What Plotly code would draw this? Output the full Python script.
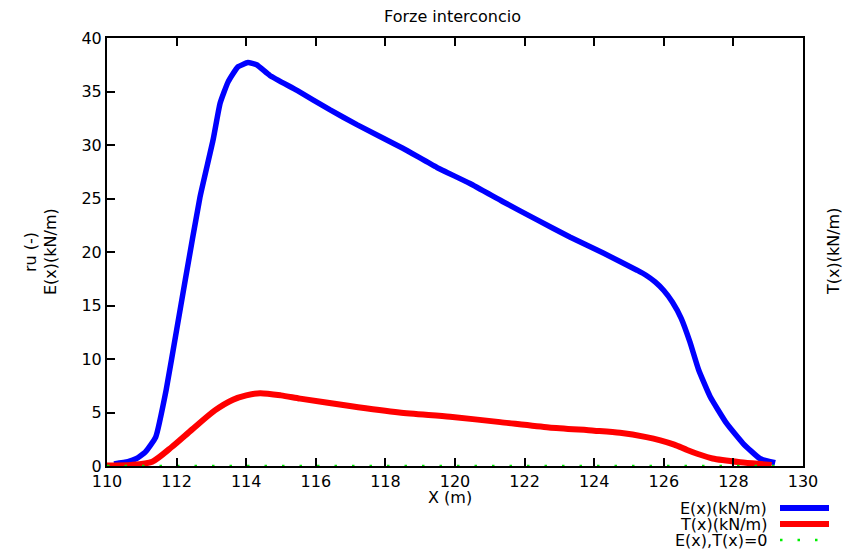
import plotly.graph_objects as go

# ---- data ----
E_x = [110.2, 110.6, 110.85, 111.1, 111.4, 111.7, 112.0, 112.25, 112.67, 113.05, 113.25,
       113.48, 113.76, 114.05, 114.3, 114.68, 115.46, 116.4, 117.18, 118.5, 119.48,
       120.43, 121.38, 122.36, 123.3, 124.26, 125.23, 125.5, 125.75, 126.0, 126.25,
       126.5, 126.75, 127.0, 127.33, 127.8, 128.28, 128.76, 129.2]
E_y = [0.2, 0.4, 0.7, 1.3, 2.7, 7.1, 12.7, 17.4, 25.1, 30.5, 33.9,
       35.9, 37.3, 37.7, 37.5, 36.5, 35.1, 33.3, 31.9, 29.7, 27.9,
       26.4, 24.7, 23.0, 21.4, 19.9, 18.3, 17.8, 17.2, 16.4, 15.3,
       13.8, 11.6, 9.0, 6.5, 4.0, 2.1, 0.7, 0.3]
T_x = [110.0, 110.7, 111.3, 111.87, 112.44, 113.1, 113.62, 114.0, 114.4, 115.0, 115.55,
       116.98, 118.4, 119.86, 121.3, 122.7, 124.0, 124.74, 125.5, 125.9, 126.3, 126.67,
       127.0, 127.4, 128.2, 128.7, 129.1]
T_y = [0.05, 0.1, 0.4, 1.8, 3.4, 5.2, 6.2, 6.6, 6.8, 6.6, 6.3,
       5.6, 5.0, 4.6, 4.1, 3.6, 3.3, 3.1, 2.7, 2.4, 2.0, 1.5,
       1.1, 0.7, 0.35, 0.2, 0.1]
Z_x = [110.0, 129.2]
Z_y = [0, 0]
x_ticks = [110, 112, 114, 116, 118, 120, 122, 124, 126, 128, 130]
y_ticks = [0, 5, 10, 15, 20, 25, 30, 35, 40]
legend_names = ["E(x)(kN/m)", "T(x)(kN/m)", "E(x),T(x)=0"]

FONT = "DejaVu Sans"
FS = 16
BLUE = "#0000ff"
RED = "#ff0000"
GREEN = "#00ee00"

fig = go.Figure()
fig.add_trace(go.Scatter(x=E_x, y=E_y, mode="lines",
                         line=dict(color=BLUE, width=5.5, shape="spline", smoothing=0.4),
                         name=legend_names[0], cliponaxis=False))
fig.add_trace(go.Scatter(x=T_x, y=T_y, mode="lines",
                         line=dict(color=RED, width=6, shape="spline", smoothing=0.7),
                         name=legend_names[1], cliponaxis=False))
fig.add_trace(go.Scatter(x=Z_x, y=Z_y, mode="lines",
                         line=dict(color=GREEN, width=2.5, dash="2.5px,15px"),
                         name=legend_names[2], cliponaxis=False))

W, H = 854, 554
L, R, T, B = 107, 51, 38, 88

fig.update_layout(
    width=W, height=H,
    margin=dict(l=L, r=R, t=T, b=B),
    paper_bgcolor="white", plot_bgcolor="white",
    showlegend=False,
    font=dict(family=FONT, size=FS, color="black"),
    xaxis=dict(range=[110, 130], tickvals=x_ticks, ticktext=[str(v) for v in x_ticks],
               ticks="inside", ticklen=8, tickwidth=1.5, tickcolor="black",
               showline=True, linecolor="black", linewidth=2, mirror="allticks",
               showgrid=False, zeroline=False, tickfont=dict(size=FS)),
    yaxis=dict(range=[0, 40], tickvals=y_ticks, ticktext=[str(v) for v in y_ticks],
               ticks="inside", ticklen=8, tickwidth=1.5, tickcolor="black",
               showline=True, linecolor="black", linewidth=2, mirror=True,
               showgrid=False, zeroline=False, tickfont=dict(size=FS)),
)

pw, ph = W - L - R, H - T - B
def px(xp):
    return (xp - L) / pw
def py(yp):
    return (H - B - yp) / ph

texts = [
    ("Forze interconcio", 452, 17, 0),
    ("X (m)", 450, 497, 0),
    ("ru (-)", 30, 252, -90),
    ("E(x)(kN/m)", 50, 252, -90),
    ("T(x)(kN/m)", 833, 252, -90),
]
annotations = []
for txt, xx, yy, ang in texts:
    annotations.append(dict(text=txt, x=px(xx), y=py(yy), xref="paper", yref="paper",
                            xanchor="center", yanchor="middle", textangle=ang,
                            showarrow=False, font=dict(size=FS)))

shapes = []
leg_y = [508, 524, 540]
leg_styles = [dict(color=BLUE, width=6), dict(color=RED, width=6),
              dict(color=GREEN, width=2.5, dash="2.5px,15px")]
for name, yy, st in zip(legend_names, leg_y, leg_styles):
    annotations.append(dict(text=name, x=px(769), y=py(yy), xref="paper", yref="paper",
                            xanchor="right", yanchor="middle", showarrow=False,
                            font=dict(size=FS)))
    shapes.append(dict(type="line", xref="paper", yref="paper",
                       x0=px(780), x1=px(829), y0=py(yy), y1=py(yy), line=st))

fig.update_layout(annotations=annotations, shapes=shapes)
fig.write_html("out.html")
